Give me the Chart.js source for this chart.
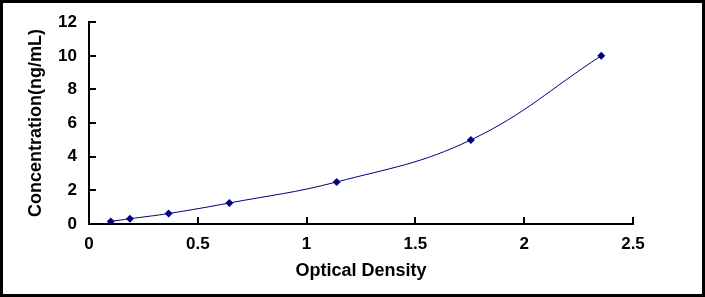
<!DOCTYPE html>
<html>
<head>
<meta charset="utf-8">
<script src="https://cdn.jsdelivr.net/npm/chart.js@4"></script>
<style>
  html, body { margin: 0; padding: 0; background: #fff; }
  #wrap { width: 705px; height: 297px; position: relative; }
</style>
</head>
<body>
<div id="wrap"><canvas id="myChart"></canvas></div>
<script>
const opticalDensity = [0.1, 0.188, 0.366, 0.645, 1.138, 1.755, 2.354];
const concentration = [0.156, 0.312, 0.625, 1.25, 2.5, 5, 10];
const xTicks = [0, 0.5, 1, 1.5, 2, 2.5];
const yTicks = [0, 2, 4, 6, 8, 10, 12];

const navy = '#000080';
const tickFont = { family: 'Liberation Sans', weight: 'bold', size: 17 };
const titleFont = { family: 'Liberation Sans', weight: 'bold', size: 18 };

// white background, outer frame and inward tick marks
const framePlugin = {
    id: 'frame',
    beforeDraw(chart) {
        const c = chart.ctx;
        c.save();
        c.fillStyle = '#fff';
        c.fillRect(0, 0, chart.width, chart.height);
        c.restore();
    },
    afterDraw(chart) {
        const c = chart.ctx;
        const xs = chart.scales.x, ys = chart.scales.y;
        c.save();
        c.strokeStyle = '#000';
        c.lineWidth = 2;
        c.beginPath();
        xs.ticks.forEach(t => {
            const px = Math.round(xs.getPixelForValue(t.value));
            c.moveTo(px, ys.bottom);
            c.lineTo(px, ys.bottom - 7);
        });
        ys.ticks.forEach(t => {
            const py = Math.round(ys.getPixelForValue(t.value));
            c.moveTo(xs.left, py);
            c.lineTo(xs.left + 7, py);
        });
        c.stroke();
        c.lineWidth = 3;
        c.strokeRect(1.5, 1.5, chart.width - 3, chart.height - 3);
        c.restore();
    }
};

const ctx = document.getElementById('myChart').getContext('2d');
const myChart = new Chart(ctx, {
    type: 'line',
    data: {
        datasets: [{
            data: opticalDensity.map((x, i) => ({ x: x, y: concentration[i] })),
            borderColor: navy,
            backgroundColor: navy,
            borderWidth: 1,
            pointStyle: 'rectRot',
            pointRadius: 4,
            pointBorderWidth: 0,
            tension: 0.4,
            fill: false
        }]
    },
    options: {
        responsive: true,
        maintainAspectRatio: false,
        animation: false,
        layout: { padding: { top: 22, right: 72, left: 0, bottom: 0 } },
        scales: {
            x: {
                type: 'linear',
                min: 0,
                max: 2.5,
                afterBuildTicks: s => { s.ticks = xTicks.map(v => ({ value: v })); },
                afterFit: s => { s.height = 73; },
                grid: { display: false, drawTicks: false },
                border: { display: true, color: '#000', width: 2 },
                ticks: {
                    color: '#000', font: tickFont, padding: 10, maxRotation: 0,
                    callback: v => String(v)
                },
                title: { display: true, text: 'Optical Density', color: '#000', font: titleFont, padding: { top: 8, bottom: 15 } }
            },
            y: {
                type: 'linear',
                min: 0,
                max: 12,
                afterBuildTicks: s => { s.ticks = yTicks.map(v => ({ value: v })); },
                afterFit: s => { s.width = 89; },
                grid: { display: false, drawTicks: false },
                border: { display: true, color: '#000', width: 2 },
                ticks: { color: '#000', font: tickFont, padding: 12 },
                title: { display: true, text: 'Concentration(ng/mL)', color: '#000', font: titleFont, padding: { top: 25, bottom: 0 } }
            }
        },
        plugins: {
            legend: { display: false },
            tooltip: { enabled: false }
        }
    },
    plugins: [framePlugin]
});
</script>
</body>
</html>
